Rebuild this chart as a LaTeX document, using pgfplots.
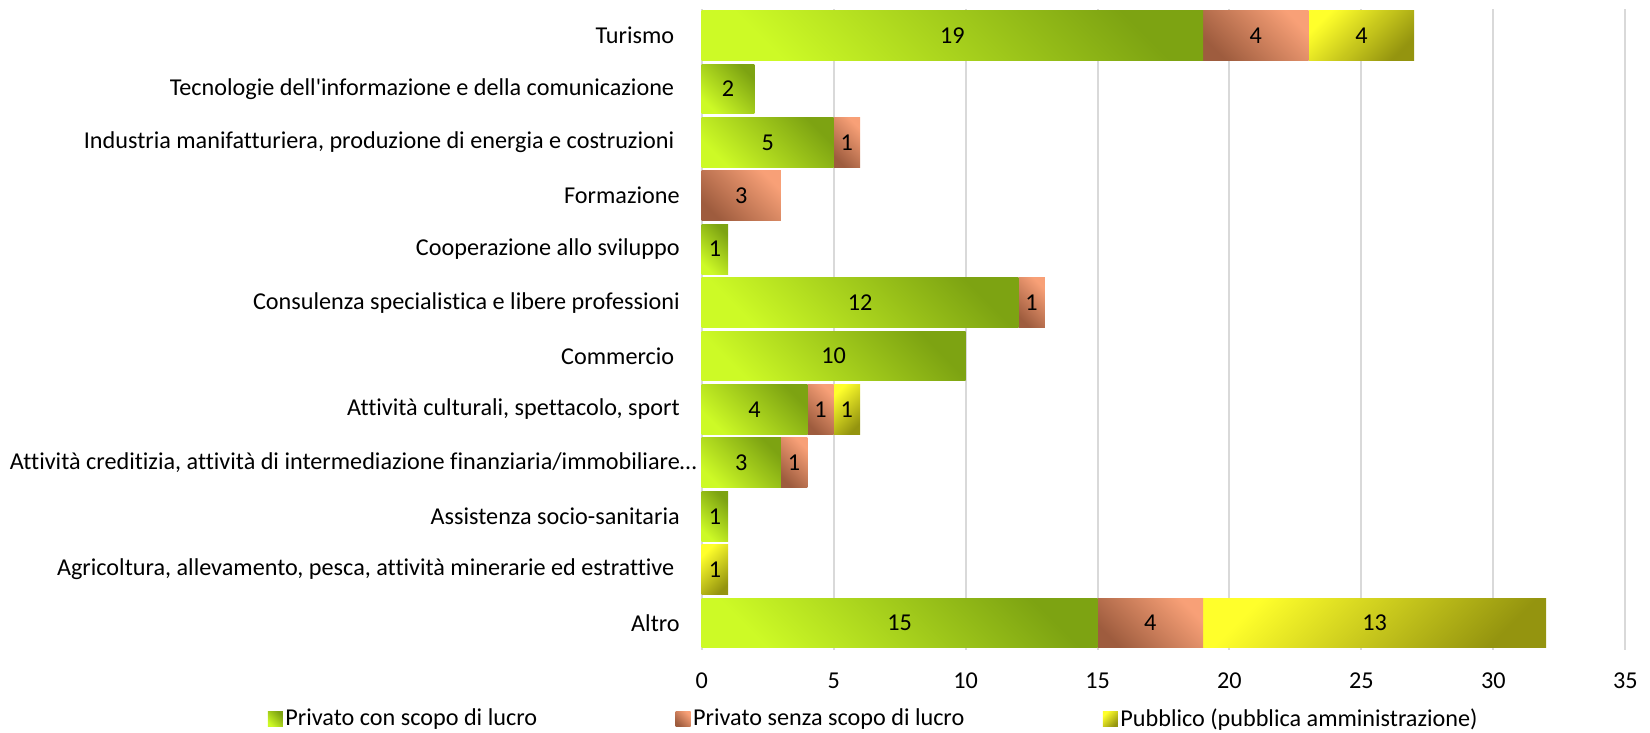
\documentclass[border=0pt]{standalone}
\usepackage{pgfplots}
\pgfplotsset{compat=1.18}
\usepackage{fontspec}
\setmainfont{Carlito}[Ligatures=NoCommon]
\definecolor{gA}{HTML}{CDFA26}
\definecolor{gB}{HTML}{7DA312}
\definecolor{pA}{HTML}{9E5C3E}
\definecolor{pB}{HTML}{F8A077}
\definecolor{yA}{HTML}{FFFF2B}
\definecolor{yB}{HTML}{94940F}
\definecolor{gridc}{HTML}{D9D9D9}
\newcommand\lfont{\fontsize{12.1}{14.5}\selectfont}
\pgfplotsset{
  /pgf/number format/assume math mode=true,
  base/.style={at={(0,0)}, anchor=south west, scale only axis,
    width=461.8pt, height=320.5pt,
    xmin=0, xmax=35, ymin=-0.5, ymax=11.5,
    xbar stacked, bar width=0.93},
  cat/.style={base, hide axis},
  lab/.style={visualization depends on=rawx\as\rawx,
    nodes near coords={\pgfmathprintnumber[assume math mode=true]{\rawx}},
    every node near coord/.style={font=\lfont, text=black, anchor=center}},
  gs/.style={draw=none, top color=gB, bottom color=gA, shading angle=-45, lab},
  ps/.style={draw=none, top color=pB, bottom color=pA, shading angle=-45, lab},
  ys/.style={draw=none, top color=yA, bottom color=yB, shading angle=45, lab},
}
\begin{document}
\begin{tikzpicture}
\path[use as bounding box] (-350.85pt,-41.15pt) rectangle (474.15pt,324.9pt);
\begin{axis}[base,
  xtick={0,5,...,35},
  ytick={0,...,11},
  yticklabels={
    Altro,
    {Agricoltura, allevamento, pesca, attività minerarie ed estrattive\kern2.75pt},
    Assistenza socio-sanitaria,
    {Attività creditizia, attività di intermediazione finanziaria/immobiliare…\kern-8.5pt},
    {Attività culturali, spettacolo, sport},
    {Commercio\kern2.75pt},
    Consulenza specialistica e libere professioni,
    Cooperazione allo sviluppo,
    Formazione,
    {Industria manifatturiera, produzione di energia e costruzioni\kern2.75pt},
    {Tecnologie dell\textquotesingle informazione e della comunicazione\kern2.75pt},
    {Turismo\kern2.75pt}},
  axis line style={draw=none},
  tick style={draw=none},
  xmajorgrids, grid style={gridc, line width=1pt},
  xticklabel style={font=\lfont, anchor=base, yshift=-19.4pt},
  yticklabel style={font=\lfont, anchor=east, inner sep=0pt, xshift=-10.8pt},
  legend columns=3,
  legend style={draw=none, fill=none, font=\lfont,
    at={(axis description cs:0.1866,-0.1081)}, anchor=center,
    nodes={inner xsep=1.25pt, inner ysep=1pt},
    /tikz/every even column/.append style={column sep=68pt}},
  legend image code/.code={\path[#1,draw=none] (0pt,-3.75pt) rectangle (7.5pt,3.75pt);},
]
\addlegendimage{top color=gB, bottom color=gA, shading angle=-45}
\addlegendentry{Privato con scopo di lucro}
\addlegendimage{top color=pB, bottom color=pA, shading angle=-45}
\addlegendentry{Privato senza scopo di lucro}
\addlegendimage{top color=yA, bottom color=yB, shading angle=45}
\addlegendentry{Pubblico (pubblica amministrazione)}
\end{axis}
% Turismo
\begin{axis}[cat]
\addplot[gs] coordinates {(19,11)};
\addplot[ps] coordinates {(4,11)};
\addplot[ys] coordinates {(4,11)};
\end{axis}
% Tecnologie
\begin{axis}[cat]
\addplot[gs] coordinates {(2,10)};
\end{axis}
% Industria
\begin{axis}[cat]
\addplot[gs] coordinates {(5,9)};
\addplot[ps] coordinates {(1,9)};
\end{axis}
% Formazione
\begin{axis}[cat]
\addplot[ps] coordinates {(3,8)};
\end{axis}
% Cooperazione
\begin{axis}[cat]
\addplot[gs] coordinates {(1,7)};
\end{axis}
% Consulenza
\begin{axis}[cat]
\addplot[gs] coordinates {(12,6)};
\addplot[ps] coordinates {(1,6)};
\end{axis}
% Commercio
\begin{axis}[cat]
\addplot[gs] coordinates {(10,5)};
\end{axis}
% Attivita culturali
\begin{axis}[cat]
\addplot[gs] coordinates {(4,4)};
\addplot[ps] coordinates {(1,4)};
\addplot[ys] coordinates {(1,4)};
\end{axis}
% Attivita creditizia
\begin{axis}[cat]
\addplot[gs] coordinates {(3,3)};
\addplot[ps] coordinates {(1,3)};
\end{axis}
% Assistenza
\begin{axis}[cat]
\addplot[gs] coordinates {(1,2)};
\end{axis}
% Agricoltura
\begin{axis}[cat]
\addplot[ys] coordinates {(1,1)};
\end{axis}
% Altro
\begin{axis}[cat]
\addplot[gs] coordinates {(15,0)};
\addplot[ps] coordinates {(4,0)};
\addplot[ys] coordinates {(13,0)};
\end{axis}
\end{tikzpicture}
\end{document}
